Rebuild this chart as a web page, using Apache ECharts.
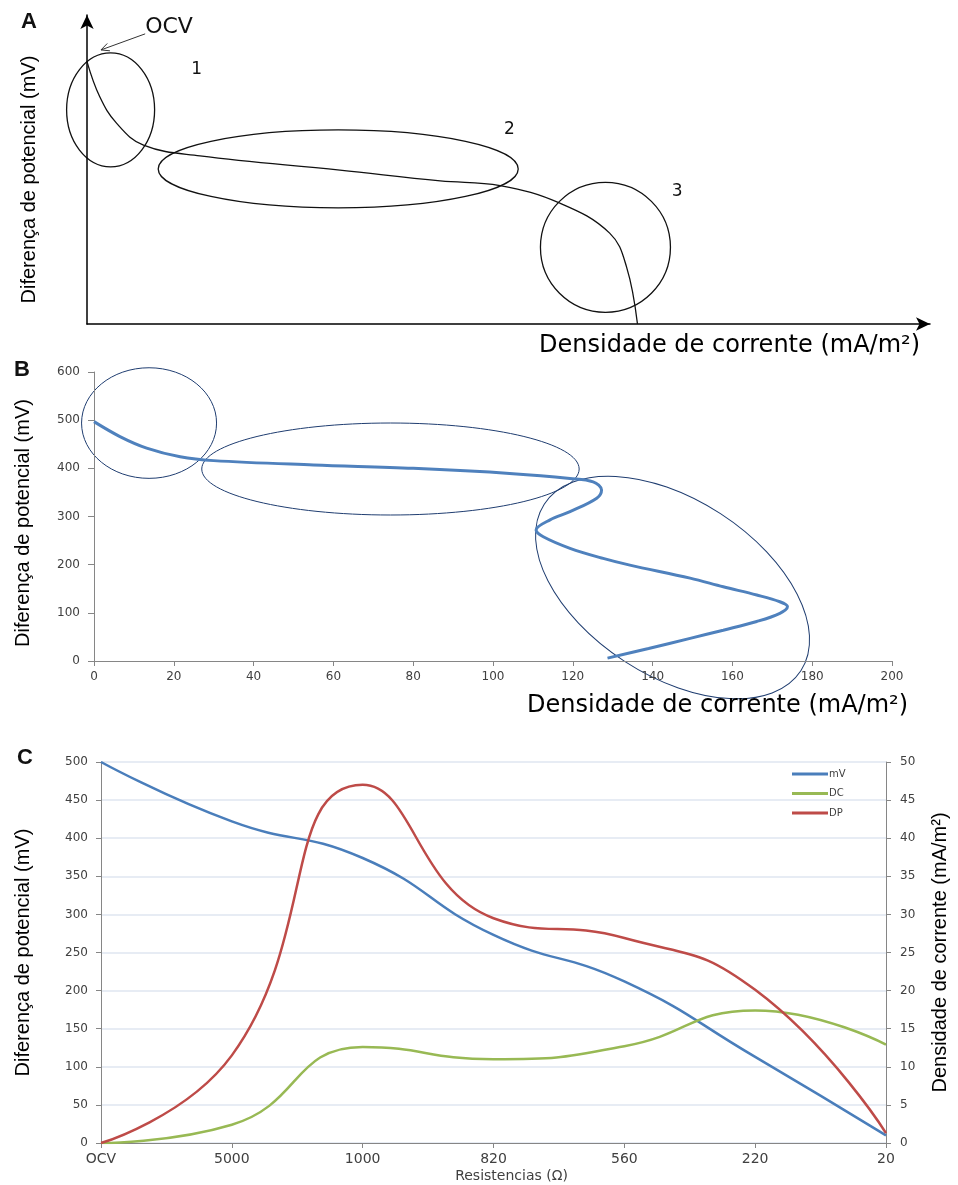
<!DOCTYPE html>
<html>
<head>
<meta charset="utf-8">
<script src="https://cdn.jsdelivr.net/npm/echarts@6/dist/echarts.min.js"></script>
<style>
html, body { margin: 0; padding: 0; background: #fff; }
#chart { width: 958px; height: 1185px; }
</style>
</head>
<body>
<div id="chart"></div>
<script>
// ---- panel A : schematic polarisation curve (arbitrary units 0-100)
const schemeCurve = [
  [0, 84.9], [1.5, 73.6], [3.5, 65.0], [6.7, 57.9], [13.4, 54.4], [30.0, 49.8],
  [41.9, 46.3], [49.0, 44.8], [56.1, 39.1], [62.0, 29.4], [64.0, 18.5], [65.3, 0]
];
// ---- panel B : current density (mA/m2) vs potential (mV)
const polCurve = [
  [0, 497], [6.5, 466], [13.2, 442], [21.6, 424], [30, 416], [55, 407], [80, 400],
  [105, 389], [119.3, 379], [125.1, 372], [127.2, 355], [126, 338], [119.3, 310],
  [114.3, 293], [110.8, 272], [112.6, 258], [119.3, 234], [127.6, 213], [134.3, 199],
  [149.4, 172], [157.7, 154], [166.1, 137], [171.9, 123], [173.8, 113], [171.9, 99],
  [166.1, 82], [157.7, 64], [149.4, 47], [139, 26], [128.7, 6]
];
// ---- panel C
const resistances = ["OCV", "5000", "1000", "820", "560", "220", "20"];
const mV = [500, 422, 374, 273, 212, 113, 10];
const DC = [0, 2.4, 12.6, 11.0, 12.7, 17.4, 12.9];
const DP = [0, 11.5, 47, 29.5, 26.9, 20.1, 1.3];

const titleFont = "'Liberation Sans', sans-serif";
const tickFont = "'DejaVu Sans', sans-serif";
const axisGrey = "#868686";

const chart = echarts.init(document.getElementById("chart"));

function hiddenAxisBits() {
  return { axisTick: { show: false }, axisLabel: { show: false }, splitLine: { show: false } };
}

const option = {
  animation: false,
  grid: [
    { left: 87, top: 15, width: 843, height: 309 },
    { left: 94, top: 372, width: 798, height: 289 },
    { left: 101, top: 762, width: 788, height: 381 }
  ],
  legend: {
    data: ["mV", "DC", "DP"],
    orient: "vertical",
    left: 787,
    top: 764,
    icon: "rect",
    itemWidth: 36,
    itemHeight: 3,
    itemGap: 9.5,
    textStyle: { fontFamily: tickFont, fontSize: 10, color: "#404040", padding: [0, 0, 0, -4] }
  },
  xAxis: [
    Object.assign({
      gridIndex: 0, type: "value", min: 0, max: 100,
      axisLine: { onZero: false, symbol: ["none", "arrow"], symbolSize: [10, 14], lineStyle: { color: "#000", width: 1.5 } },
      name: "Densidade de corrente (mA/m²)",
      nameLocation: "end",
      nameGap: -10,
      nameTextStyle: { fontFamily: tickFont, fontSize: 24, color: "#000", align: "right", verticalAlign: "top", padding: [10, 0, 0, 0] }
    }, hiddenAxisBits()),
    {
      gridIndex: 1, type: "value", min: 0, max: 200, interval: 20,
      axisLine: { onZero: false, lineStyle: { color: axisGrey } },
      axisTick: { length: 5, lineStyle: { color: axisGrey } },
      axisLabel: { fontFamily: tickFont, fontSize: 12, color: "#404040", margin: 10 },
      splitLine: { show: false },
      name: "Densidade de corrente (mA/m²)",
      nameLocation: "end",
      nameGap: 16,
      nameTextStyle: { fontFamily: tickFont, fontSize: 24, color: "#000", align: "right", verticalAlign: "top", padding: [33, 0, 0, 0] }
    },
    {
      gridIndex: 2, type: "category", data: resistances, boundaryGap: false,
      axisLine: { lineStyle: { color: axisGrey } },
      axisTick: { length: 5, lineStyle: { color: axisGrey } },
      axisLabel: { fontFamily: tickFont, fontSize: 14, color: "#404040", margin: 9 },
      splitLine: { show: false },
      name: "Resistencias (Ω)",
      nameLocation: "middle",
      nameGap: 26,
      nameTextStyle: { fontFamily: tickFont, fontSize: 14, color: "#404040", padding: [0, 0, 0, 36] }
    }
  ],
  yAxis: [
    Object.assign({
      gridIndex: 0, type: "value", min: 0, max: 100,
      axisLine: { onZero: false, symbol: ["none", "arrow"], symbolSize: [10, 14], lineStyle: { color: "#000", width: 1.5 } },
      name: "Diferença de potencial (mV)",
      nameLocation: "middle",
      nameGap: 48,
      nameTextStyle: { fontFamily: titleFont, fontSize: 20, color: "#000", padding: [0, 20, 0, 0] }
    }, hiddenAxisBits()),
    {
      gridIndex: 1, type: "value", min: 0, max: 600, interval: 100,
      axisLine: { show: true, onZero: false, lineStyle: { color: axisGrey } },
      axisTick: { show: true, length: 6, lineStyle: { color: axisGrey } },
      axisLabel: { fontFamily: tickFont, fontSize: 12, color: "#404040", margin: 14 },
      splitLine: { show: false },
      name: "Diferença de potencial (mV)",
      nameLocation: "middle",
      nameGap: 61,
      nameTextStyle: { fontFamily: titleFont, fontSize: 20, color: "#000", padding: [0, 13, 0, 0] }
    },
    {
      gridIndex: 2, type: "value", min: 0, max: 500, interval: 50,
      axisLine: { show: true, lineStyle: { color: axisGrey } },
      axisTick: { show: true, length: 5, lineStyle: { color: axisGrey } },
      axisLabel: { fontFamily: tickFont, fontSize: 12, color: "#404040", margin: 13 },
      splitLine: { show: true, lineStyle: { color: "#dfe6f0", width: 1.5 } },
      name: "Diferença de potencial (mV)",
      nameLocation: "middle",
      nameGap: 68,
      nameTextStyle: { fontFamily: titleFont, fontSize: 20, color: "#000" }
    },
    {
      gridIndex: 2, type: "value", position: "right", min: 0, max: 50, interval: 5,
      axisLine: { show: true, lineStyle: { color: axisGrey } },
      axisTick: { show: true, length: 5, lineStyle: { color: axisGrey } },
      axisLabel: { fontFamily: tickFont, fontSize: 12, color: "#404040", margin: 14 },
      splitLine: { show: false },
      name: "Densidade de corrente (mA/m²)",
      nameLocation: "middle",
      nameGap: 44,
      nameTextStyle: { fontFamily: titleFont, fontSize: 20, color: "#000" }
    }
  ],
  series: [
    {
      type: "line", xAxisIndex: 0, yAxisIndex: 0, data: schemeCurve,
      smooth: 0.4, symbol: "none", silent: true,
      lineStyle: { color: "#111", width: 1.3 }
    },
    {
      type: "line", xAxisIndex: 1, yAxisIndex: 1, data: polCurve,
      smooth: 0.35, symbol: "none", silent: true,
      lineStyle: { color: "#4f81bd", width: 3 }
    },
    {
      name: "mV", type: "line", xAxisIndex: 2, yAxisIndex: 2, data: mV,
      smooth: 0.5, symbol: "none", itemStyle: { color: "#4a7ebb" },
      lineStyle: { color: "#4a7ebb", width: 2.5 }
    },
    {
      name: "DC", type: "line", xAxisIndex: 2, yAxisIndex: 3, data: DC,
      smooth: 0.5, symbol: "none", itemStyle: { color: "#98b954" },
      lineStyle: { color: "#98b954", width: 2.5 }
    },
    {
      name: "DP", type: "line", xAxisIndex: 2, yAxisIndex: 3, data: DP,
      smooth: 0.5, symbol: "none", itemStyle: { color: "#be4b48" },
      lineStyle: { color: "#be4b48", width: 2.5 }
    }
  ]
};
chart.setOption(option);

// ---- annotations (ellipses, labels), anchored in data coordinates
const schemeRings = [
  { at: [2.8, 69.3], rx: 44, ry: 57, rot: 0 },
  { at: [29.8, 50.2], rx: 180, ry: 39, rot: 0 },
  { at: [61.5, 24.8], rx: 65, ry: 65, rot: 0 }
];
const schemeZones = [
  { text: "1", at: [13.0, 82.2] },
  { text: "2", at: [50.1, 62.8] },
  { text: "3", at: [70.0, 42.7] }
];
const polRings = [
  { at: [13.8, 494], rx: 67.5, ry: 55.3, rot: 0 },
  { at: [74.3, 398.6], rx: 188.7, ry: 46, rot: 0 },
  { at: [145, 152.6], rx: 153, ry: 88, rot: -33 }
];

const graphics = [];
function ring(gridIndex, r, color, width) {
  const p = chart.convertToPixel({ gridIndex: gridIndex }, r.at);
  graphics.push({
    type: "ellipse", x: p[0], y: p[1], rotation: r.rot * Math.PI / 180, silent: true,
    shape: { cx: 0, cy: 0, rx: r.rx, ry: r.ry },
    style: { fill: null, stroke: color, lineWidth: width }
  });
}
schemeRings.forEach(r => ring(0, r, "#111", 1.3));
polRings.forEach(r => ring(1, r, "#1f3d70", 1));

schemeZones.forEach(z => {
  const p = chart.convertToPixel({ gridIndex: 0 }, z.at);
  graphics.push({
    type: "text", x: p[0], y: p[1], silent: true,
    style: { text: z.text, font: "17px 'DejaVu Sans'", fill: "#111", align: "center", verticalAlign: "middle" }
  });
});

// OCV label and its arrow
const ocvText = chart.convertToPixel({ gridIndex: 0 }, [6.9, 96.1]);
const arrFrom = chart.convertToPixel({ gridIndex: 0 }, [6.9, 93.9]);
const arrTo = chart.convertToPixel({ gridIndex: 0 }, [1.66, 88.7]);
graphics.push({
  type: "text", x: ocvText[0], y: ocvText[1], silent: true,
  style: { text: "OCV", font: "22px 'DejaVu Sans'", fill: "#111", align: "left", verticalAlign: "middle" }
});
const ang = Math.atan2(arrTo[1] - arrFrom[1], arrTo[0] - arrFrom[0]);
const head = 9;
graphics.push({
  type: "polyline", silent: true,
  shape: { points: [arrFrom, arrTo] },
  style: { stroke: "#333", lineWidth: 1, fill: null }
});
graphics.push({
  type: "polyline", silent: true,
  shape: {
    points: [
      [arrTo[0] - head * Math.cos(ang - 0.45), arrTo[1] - head * Math.sin(ang - 0.45)],
      arrTo,
      [arrTo[0] - head * Math.cos(ang + 0.45), arrTo[1] - head * Math.sin(ang + 0.45)]
    ]
  },
  style: { stroke: "#333", lineWidth: 1, fill: null }
});

// panel letters
[["A", 29, 22], ["B", 22, 370], ["C", 25, 758]].forEach(l => {
  graphics.push({
    type: "text", x: l[1], y: l[2], silent: true,
    style: { text: l[0], font: "bold 22px 'Liberation Sans'", fill: "#111", align: "center", verticalAlign: "middle" }
  });
});

chart.setOption({ graphic: graphics });
window.addEventListener("resize", () => chart.resize(), false);
</script>
</body>
</html>
